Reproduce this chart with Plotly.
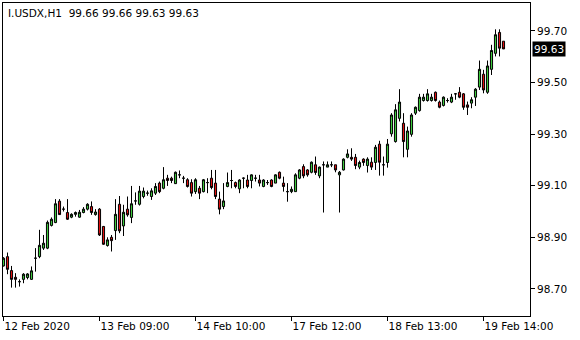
import plotly.graph_objects as go

# OHLC values (hourly bars, I.USDX H1)
open_ = [98.789, 98.825, 98.771, 98.745, 98.728, 98.737, 98.744, 98.737, 98.819, 98.825,
         98.858, 98.858, 98.946, 98.957, 99.040, 99.009, 98.996, 98.978, 98.989, 98.978,
         98.996, 99.009, 99.019, 98.988, 99.009, 98.942, 98.868, 98.900, 98.926, 99.028,
         98.944, 99.009, 98.977, 99.041, 99.028, 99.058, 99.071, 99.058, 99.071, 99.110,
         99.090, 99.129, 99.129, 99.108, 99.142, 99.129, 99.123, 99.112, 99.077, 99.090,
         99.077, 99.112, 99.129, 99.110, 99.048, 99.019, 99.097, 99.120, 99.112, 99.088,
         99.129, 99.122, 99.120, 99.129, 99.122, 99.097, 99.112, 99.122, 99.110, 99.152,
         99.110, 99.077, 99.077, 99.077, 99.129, 99.174, 99.161, 99.152, 99.181, 99.138,
         99.181, 99.172, 99.181, 99.181, 99.142, 99.161, 99.210, 99.210, 99.210, 99.172,
         99.203, 99.178, 99.191, 99.190, 99.261, 99.181, 99.190, 99.301, 99.271, 99.361,
         99.342, 99.241, 99.299, 99.381, 99.391, 99.430, 99.430, 99.430, 99.462, 99.424,
         99.411, 99.430, 99.424, 99.456, 99.462, 99.456, 99.413, 99.420, 99.443, 99.482,
         99.532, 99.462, 99.551, 99.613, 99.694, 99.660]
high = [98.823, 98.841, 98.789, 98.761, 98.737, 98.761, 98.761, 98.787, 98.858, 98.929,
        98.909, 98.965, 98.977, 99.048, 99.048, 99.019, 99.048, 98.993, 99.000, 99.006,
        99.017, 99.032, 99.039, 99.009, 99.013, 98.944, 98.900, 98.909, 99.048, 99.060,
        99.026, 99.058, 99.099, 99.074, 99.099, 99.093, 99.081, 99.090, 99.110, 99.116,
        99.172, 99.142, 99.135, 99.155, 99.159, 99.138, 99.129, 99.125, 99.129, 99.099,
        99.126, 99.129, 99.161, 99.161, 99.077, 99.110, 99.151, 99.161, 99.116, 99.125,
        99.132, 99.142, 99.144, 99.142, 99.142, 99.125, 99.122, 99.125, 99.144, 99.155,
        99.135, 99.110, 99.097, 99.148, 99.164, 99.183, 99.164, 99.194, 99.213, 99.174,
        99.194, 99.194, 99.194, 99.181, 99.157, 99.206, 99.241, 99.245, 99.223, 99.197,
        99.206, 99.210, 99.210, 99.258, 99.274, 99.213, 99.281, 99.381, 99.416, 99.474,
        99.381, 99.329, 99.381, 99.407, 99.456, 99.456, 99.474, 99.456, 99.465, 99.430,
        99.446, 99.439, 99.456, 99.459, 99.482, 99.459, 99.426, 99.443, 99.478, 99.585,
        99.549, 99.585, 99.646, 99.706, 99.706, 99.660]
low = [98.787, 98.757, 98.705, 98.705, 98.709, 98.722, 98.737, 98.735, 98.767, 98.819,
       98.851, 98.854, 98.942, 98.955, 98.987, 99.000, 98.967, 98.974, 98.980, 98.976,
       98.993, 99.004, 98.987, 98.984, 98.905, 98.871, 98.864, 98.845, 98.890, 98.916,
       98.905, 98.980, 98.955, 99.026, 99.023, 99.051, 99.061, 99.045, 99.064, 99.071,
       99.086, 99.099, 99.110, 99.107, 99.129, 99.110, 99.093, 99.058, 99.068, 99.048,
       99.074, 99.071, 99.086, 99.048, 98.989, 99.009, 99.094, 99.090, 99.090, 99.071,
       99.090, 99.090, 99.090, 99.116, 99.097, 99.094, 99.103, 99.094, 99.110, 99.125,
       99.077, 99.038, 99.071, 99.077, 99.125, 99.129, 99.135, 99.148, 99.142, 99.129,
       98.996, 99.172, 99.172, 99.152, 98.996, 99.159, 99.206, 99.196, 99.164, 99.164,
       99.177, 99.151, 99.161, 99.161, 99.139, 99.139, 99.170, 99.290, 99.267, 99.349,
       99.210, 99.210, 99.290, 99.374, 99.387, 99.426, 99.426, 99.426, 99.426, 99.400,
       99.407, 99.422, 99.420, 99.433, 99.439, 99.394, 99.374, 99.400, 99.409, 99.471,
       99.458, 99.456, 99.529, 99.601, 99.601, 99.630]
close = [98.819, 98.776, 98.737, 98.737, 98.728, 98.757, 98.758, 98.770, 98.819, 98.869,
         98.877, 98.958, 98.970, 99.030, 98.988, 99.009, 98.970, 98.989, 98.996, 98.997,
         99.009, 99.028, 98.996, 98.998, 98.909, 98.873, 98.890, 98.887, 98.989, 98.925,
         98.997, 98.987, 99.030, 99.041, 99.079, 99.079, 99.071, 99.080, 99.097, 99.077,
         99.123, 99.120, 99.120, 99.152, 99.142, 99.129, 99.097, 99.071, 99.123, 99.071,
         99.123, 99.112, 99.093, 99.058, 99.009, 99.041, 99.112, 99.120, 99.097, 99.122,
         99.129, 99.097, 99.142, 99.129, 99.110, 99.122, 99.112, 99.097, 99.142, 99.129,
         99.097, 99.077, 99.086, 99.142, 99.161, 99.138, 99.142, 99.191, 99.151, 99.172,
         99.181, 99.181, 99.181, 99.161, 99.152, 99.203, 99.223, 99.203, 99.178, 99.190,
         99.190, 99.203, 99.172, 99.249, 99.191, 99.181, 99.261, 99.374, 99.394, 99.424,
         99.271, 99.312, 99.374, 99.404, 99.443, 99.443, 99.456, 99.443, 99.430, 99.404,
         99.443, 99.430, 99.443, 99.456, 99.443, 99.404, 99.404, 99.433, 99.474, 99.551,
         99.471, 99.564, 99.624, 99.685, 99.633, 99.630]

bar_index = list(range(len(open_)))
tick_bars = [0, 24, 48, 72, 96, 120]
tick_labels = ["12 Feb 2020", "13 Feb 09:00", "14 Feb 10:00",
               "17 Feb 12:00", "18 Feb 13:00", "19 Feb 14:00"]
price_ticks = [98.70, 98.90, 99.10, 99.30, 99.50, 99.70]
last_price = 99.63
title_text = "I.USDX,H1  99.66 99.66 99.63 99.63"

FONT = "DejaVu Sans"

fig = go.Figure(go.Candlestick(
    x=bar_index, open=open_, high=high, low=low, close=close,
    increasing=dict(line=dict(color="black", width=1), fillcolor="#3cc83c"),
    decreasing=dict(line=dict(color="black", width=1), fillcolor="#e01010"),
    whiskerwidth=0,
    hoverinfo="skip",
))

fig.update_layout(
    width=580, height=340,
    margin=dict(l=3, r=50, t=3, b=24),
    paper_bgcolor="white", plot_bgcolor="white",
    showlegend=False,
    boxgap=0.25,
    font=dict(family=FONT, size=10.5, color="black"),
    xaxis=dict(
        range=[-0.125, 131.625], rangeslider=dict(visible=False),
        showgrid=False, zeroline=False,
        showline=True, linecolor="black", linewidth=1, mirror=True,
        ticks="outside", ticklen=4, tickcolor="black",
        tickvals=tick_bars, ticktext=tick_labels,
        ticklabelposition="outside right",
        tickfont=dict(family=FONT, size=10.5, color="black"),
        fixedrange=True,
    ),
    yaxis=dict(
        range=[98.595, 99.808], side="right",
        showgrid=False, zeroline=False,
        showline=True, linecolor="black", linewidth=1, mirror=True,
        ticks="outside", ticklen=4, tickcolor="black",
        tickvals=price_ticks, tickformat=".2f",
        tickfont=dict(family=FONT, size=10.5, color="black"),
        fixedrange=True,
    ),
    annotations=[
        dict(text=title_text, xref="paper", yref="paper", x=0.006, y=0.995,
             xanchor="left", yanchor="top", showarrow=False,
             font=dict(family=FONT, size=10.5, color="black")),
        dict(text=f"{last_price:.2f}", xref="paper", yref="y", x=1, y=last_price,
             xanchor="left", yanchor="middle", xshift=2, showarrow=False,
             bgcolor="black", borderpad=1,
             font=dict(family=FONT, size=10.5, color="white")),
    ],
)

fig.write_html("out.html")
